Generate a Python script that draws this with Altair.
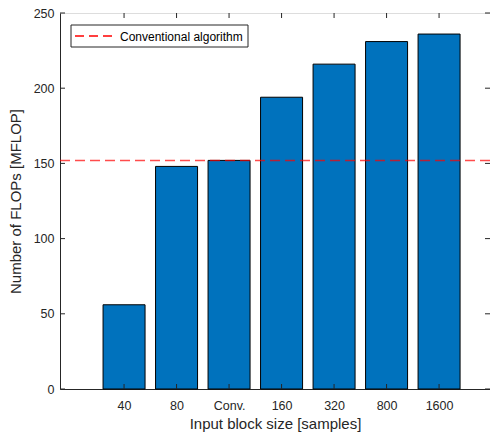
import altair as alt
import pandas as pd

categories = ["40", "80", "Conv.", "160", "320", "800", "1600"]
flops = [56, 148, 152, 194, 216, 231, 236]
conventional_value = 152
legend_label = "Conventional algorithm"
y_ticks = [0, 50, 100, 150, 200, 250]

W, H = 430, 376
FONT = "Liberation Sans"
TXT = "#262626"

pos = list(range(1, len(categories) + 1))
df = pd.DataFrame({"pos": pos, "cat": categories, "flops": flops})
df["x0"] = df["pos"] - 0.4
df["x1"] = df["pos"] + 0.4

label_expr = " : ".join(f"datum.value == {p} ? '{c}'" for p, c in zip(pos, categories)) + " : ''"

xscale = alt.Scale(domain=[-0.22, 7.97], nice=False, zero=False)
yscale = alt.Scale(domain=[0, 250], nice=False)

bars = alt.Chart(df).mark_bar(color="#0072BD", stroke="black", strokeWidth=1).encode(
    x=alt.X("x0:Q", scale=xscale,
            axis=alt.Axis(values=pos, labelExpr=label_expr, title="Input block size [samples]",
                          ticks=False, grid=False, labelPadding=10, titlePadding=5,
                          labelFontSize=12.5, titleFontSize=15, labelFont=FONT, titleFont=FONT,
                          labelColor=TXT, titleColor=TXT, titleFontWeight="normal",
                          domainColor=TXT, labelFlush=False)),
    x2="x1",
    y=alt.Y("flops:Q", scale=yscale,
            axis=alt.Axis(values=y_ticks, title="Number of FLOPs [MFLOP]", ticks=False, grid=False,
                          labelPadding=6, titlePadding=10, labelFontSize=12.5, titleFontSize=15,
                          labelFont=FONT, titleFont=FONT, labelColor=TXT, titleColor=TXT,
                          titleFontWeight="normal", domainColor=TXT)),
    y2=alt.datum(0),
)

hline = alt.Chart(pd.DataFrame({"y": [conventional_value]})).mark_rule(
    color="#FF0000", opacity=0.7, strokeDash=[10, 5], strokeWidth=1.5
).encode(y=alt.Y("y:Q", scale=yscale))

tick_df = pd.DataFrame({"pos": pos})
ytick_df = pd.DataFrame({"v": y_ticks})
tick_style = dict(color=TXT, strokeWidth=1)
xt_bottom = alt.Chart(tick_df).mark_rule(**tick_style).encode(
    x=alt.X("pos:Q", scale=xscale), y=alt.value(H), y2=alt.value(H - 5))
xt_top = alt.Chart(tick_df).mark_rule(**tick_style).encode(
    x=alt.X("pos:Q", scale=xscale), y=alt.value(0), y2=alt.value(5))
yt_left = alt.Chart(ytick_df).mark_rule(**tick_style).encode(
    y=alt.Y("v:Q", scale=yscale), x=alt.value(0), x2=alt.value(5))
yt_right = alt.Chart(ytick_df).mark_rule(**tick_style).encode(
    y=alt.Y("v:Q", scale=yscale), x=alt.value(W - 5), x2=alt.value(W))

leg_df = pd.DataFrame({"label": [legend_label]})
leg_box = alt.Chart(leg_df).mark_rect(fill="white", stroke=TXT, strokeWidth=1).encode(
    x=alt.value(11), x2=alt.value(188), y=alt.value(12), y2=alt.value(34))
leg_line = alt.Chart(leg_df).mark_rule(color="#FF0000", strokeDash=[9, 5], strokeWidth=1.5).encode(
    x=alt.value(15), x2=alt.value(56), y=alt.value(23))
leg_text = alt.Chart(leg_df).mark_text(align="left", baseline="middle", font=FONT, fontSize=12,
                                       color="black").encode(
    x=alt.value(60), y=alt.value(23.5), text="label:N")

chart = alt.layer(bars, hline, xt_bottom, xt_top, yt_left, yt_right, leg_box, leg_line, leg_text).properties(
    width=W, height=H,
    autosize=alt.AutoSizeParams(type="none"),
    padding={"left": 52, "top": 5, "right": 0, "bottom": 48},
).configure_view(stroke=TXT, strokeWidth=1).configure(background="white")

chart.save("out.html", embed_options={"renderer": "svg", "actions": False})
